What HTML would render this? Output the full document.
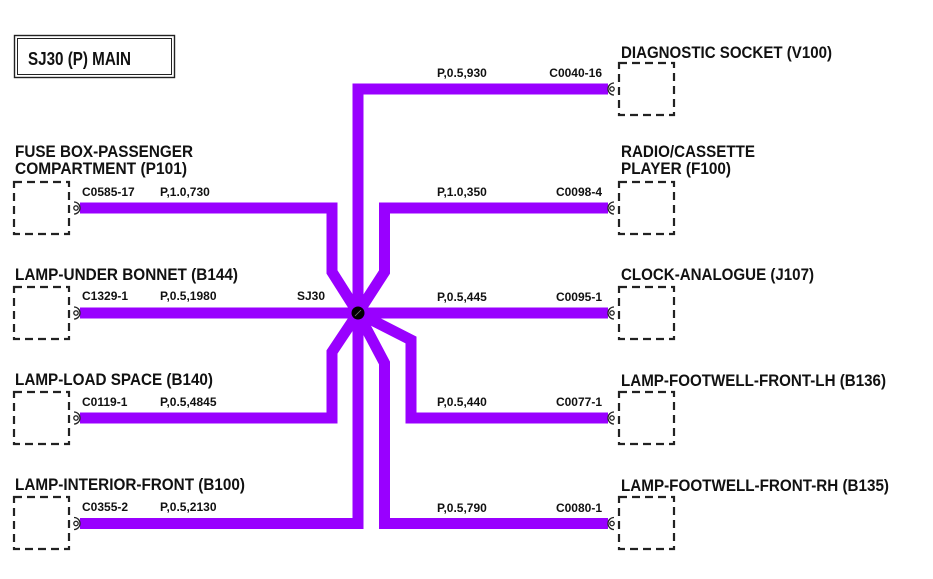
<!DOCTYPE html>
<html>
<head>
<meta charset="utf-8">
<style>
  html,body{margin:0;padding:0;background:#fff;}
  svg{display:block;}
  text{font-family:"Liberation Sans", Arial, sans-serif;font-weight:bold;fill:#111;}
  .h{font-size:16.5px;}
  .s{font-size:12px;}
</style>
</head>
<body>
<svg width="933" height="579" viewBox="0 0 933 579" xmlns="http://www.w3.org/2000/svg">
  <rect x="0" y="0" width="933" height="579" fill="#fff"/>

  <!-- Title box -->
  <rect x="14.5" y="35.5" width="160" height="42" fill="none" stroke="#222" stroke-width="1.4"/>
  <rect x="17.5" y="38.5" width="154" height="36" fill="none" stroke="#222" stroke-width="1"/>
  <text x="28" y="65" font-size="18" textLength="103" lengthAdjust="spacingAndGlyphs">SJ30 (P) MAIN</text>

  <!-- Wires -->
  <g fill="none" stroke="#9900ff" stroke-width="11" stroke-linejoin="miter" stroke-miterlimit="10">
    <polyline points="608,89 358,89 358,313"/>
    <polyline points="80,208 332,208 332,272 358,313"/>
    <polyline points="608,208 384.5,208 384.5,272 358,313"/>
    <polyline points="80,313 608,313"/>
    <polyline points="80,418 332,418 332,352 358,313"/>
    <polyline points="80,523.5 358,523.5 358,313"/>
    <polyline points="608,418 411,418 411,340 358,313"/>
    <polyline points="608,523.5 384.5,523.5 384.5,363 358,313"/>
  </g>

  <!-- Junction dot -->
  <circle cx="358" cy="313" r="6.5" fill="#000"/>
  <line x1="355" y1="316" x2="361" y2="310" stroke="#777" stroke-width="0.8"/>

  <!-- Boxes -->
  <g fill="none" stroke="#222" stroke-width="2.2" stroke-dasharray="8 5">
    <path d="M14 182 h55 v52 h-55 z"/>
    <path d="M14 287 h55 v52 h-55 z"/>
    <path d="M14 392 h55 v52 h-55 z"/>
    <path d="M14 497 h55 v52 h-55 z"/>
    <path d="M619 63 h55 v52 h-55 z"/>
    <path d="M619 182 h55 v52 h-55 z"/>
    <path d="M619 287 h55 v52 h-55 z"/>
    <path d="M619 392 h55 v52 h-55 z"/>
    <path d="M619 497 h55 v52 h-55 z"/>
  </g>

  <!-- Connector symbols -->
  <g fill="none" stroke="#222" stroke-width="1.3">
    <circle cx="76" cy="208" r="2.2"/><path d="M74 202 A6 6 0 0 1 74 214"/>
    <circle cx="76" cy="313" r="2.2"/><path d="M74 307 A6 6 0 0 1 74 319"/>
    <circle cx="76" cy="418" r="2.2"/><path d="M74 412 A6 6 0 0 1 74 424"/>
    <circle cx="76" cy="523.5" r="2.2"/><path d="M74 517.5 A6 6 0 0 1 74 529.5"/>
    <circle cx="612" cy="89" r="2.2"/><path d="M614 83 A6 6 0 0 0 614 95"/>
    <circle cx="612" cy="208" r="2.2"/><path d="M614 202 A6 6 0 0 0 614 214"/>
    <circle cx="612" cy="313" r="2.2"/><path d="M614 307 A6 6 0 0 0 614 319"/>
    <circle cx="612" cy="418" r="2.2"/><path d="M614 412 A6 6 0 0 0 614 424"/>
    <circle cx="612" cy="523.5" r="2.2"/><path d="M614 517.5 A6 6 0 0 0 614 529.5"/>
  </g>

  <!-- Left headings -->
  <text class="h" x="15" y="157" textLength="178" lengthAdjust="spacingAndGlyphs">FUSE BOX-PASSENGER</text>
  <text class="h" x="15" y="174" textLength="172" lengthAdjust="spacingAndGlyphs">COMPARTMENT (P101)</text>
  <text class="h" x="15" y="280" textLength="223" lengthAdjust="spacingAndGlyphs">LAMP-UNDER BONNET (B144)</text>
  <text class="h" x="15" y="385" textLength="198" lengthAdjust="spacingAndGlyphs">LAMP-LOAD SPACE (B140)</text>
  <text class="h" x="15" y="490" textLength="230" lengthAdjust="spacingAndGlyphs">LAMP-INTERIOR-FRONT (B100)</text>

  <!-- Right headings -->
  <text class="h" x="621" y="58" textLength="211" lengthAdjust="spacingAndGlyphs">DIAGNOSTIC SOCKET (V100)</text>
  <text class="h" x="621" y="157" textLength="134" lengthAdjust="spacingAndGlyphs">RADIO/CASSETTE</text>
  <text class="h" x="621" y="174" textLength="110" lengthAdjust="spacingAndGlyphs">PLAYER (F100)</text>
  <text class="h" x="621" y="280" textLength="193" lengthAdjust="spacingAndGlyphs">CLOCK-ANALOGUE (J107)</text>
  <text class="h" x="621" y="386" textLength="265" lengthAdjust="spacingAndGlyphs">LAMP-FOOTWELL-FRONT-LH (B136)</text>
  <text class="h" x="621" y="491" textLength="268" lengthAdjust="spacingAndGlyphs">LAMP-FOOTWELL-FRONT-RH (B135)</text>

  <!-- Left wire labels -->
  <text class="s" x="82" y="196">C0585-17</text>
  <text class="s" x="160" y="196">P,1.0,730</text>
  <text class="s" x="82" y="300">C1329-1</text>
  <text class="s" x="160" y="300">P,0.5,1980</text>
  <text class="s" x="297" y="300">SJ30</text>
  <text class="s" x="82" y="406">C0119-1</text>
  <text class="s" x="160" y="406">P,0.5,4845</text>
  <text class="s" x="82" y="511">C0355-2</text>
  <text class="s" x="160" y="511">P,0.5,2130</text>

  <!-- Right wire labels -->
  <text class="s" x="437" y="77">P,0.5,930</text>
  <text class="s" x="602" y="77" text-anchor="end">C0040-16</text>
  <text class="s" x="437" y="196">P,1.0,350</text>
  <text class="s" x="602" y="196" text-anchor="end">C0098-4</text>
  <text class="s" x="437" y="301">P,0.5,445</text>
  <text class="s" x="602" y="301" text-anchor="end">C0095-1</text>
  <text class="s" x="437" y="406">P,0.5,440</text>
  <text class="s" x="602" y="406" text-anchor="end">C0077-1</text>
  <text class="s" x="437" y="512">P,0.5,790</text>
  <text class="s" x="602" y="512" text-anchor="end">C0080-1</text>
</svg>
</body>
</html>
